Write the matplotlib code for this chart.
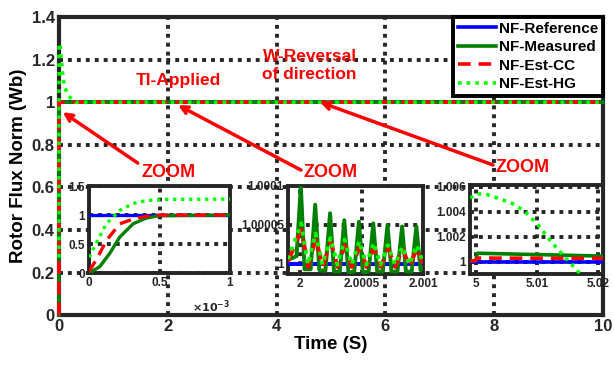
import matplotlib
matplotlib.use("Agg")
import matplotlib.pyplot as plt
from matplotlib.ticker import FuncFormatter

plt.rcParams["font.family"] = ["Liberation Sans", "DejaVu Sans"]
plt.rcParams["font.weight"] = "bold"
plt.rcParams["mathtext.default"] = "bf"

# ---- main axes data (time in s, flux norm in Wb)
ref_t = [0, 10]
ref_v = [1, 1]
meas_t = [0, 0.0005, 10]
meas_v = [0, 1, 1]
cc_t = [0, 0.0005, 10]
cc_v = [0, 1, 1]
hg_t = [0, 0.0005, 0.018, 0.037, 0.055, 0.079, 0.11, 0.17, 0.23, 0.3, 10]
hg_v = [0.27, 1.27, 1.276, 1.22, 1.165, 1.105, 1.067, 1.033, 1.014, 1.0, 1.0]

# ---- zoom 1: start-up (0 .. 1 ms)
z1_ref_t = [0, 0.001]
z1_ref_v = [1, 1]
z1_meas_t = [0, 0.076e-3, 0.147e-3, 0.218e-3, 0.313e-3, 0.408e-3, 0.5e-3, 1e-3]
z1_meas_v = [0, 0.11, 0.34, 0.62, 0.85, 0.95, 0.99, 1.0]
z1_cc_t = [0, 0.052e-3, 0.123e-3, 0.218e-3, 0.313e-3, 0.408e-3, 0.5e-3, 1e-3]
z1_cc_v = [0.03, 0.23, 0.56, 0.85, 0.93, 0.98, 1.0, 1.0]
z1_hg_t = [0, 0.052e-3, 0.123e-3, 0.218e-3, 0.313e-3, 0.408e-3, 0.55e-3, 1e-3]
z1_hg_v = [0.27, 0.52, 0.85, 1.08, 1.20, 1.25, 1.27, 1.275]

# ---- zoom 2: TI applied (2 .. 2.001 s)
z2_ref_t = [1.9999, 2.001]
z2_ref_v = [1, 1]
z2_meas_t = [1.99990, 1.99997, 2.000005, 2.000035, 2.000085, 2.000122, 2.000155,
             2.000205, 2.000243, 2.000275, 2.000322, 2.000359, 2.000392, 2.000440,
             2.000478, 2.000510, 2.000557, 2.000595, 2.000627, 2.000673, 2.000711,
             2.000743, 2.000792, 2.000830, 2.000861, 2.000908, 2.000946, 2.000980,
             2.001000]
z2_meas_v = [1.000005, 1.000010, 1.000100, 0.999993, 0.999993, 1.000076, 0.999992,
             0.999991, 1.000065, 0.999990, 0.999990, 1.000056, 0.999989, 0.999990,
             1.000054, 0.999989, 0.999990, 1.000052, 0.999990, 0.999990, 1.000050,
             0.999990, 0.999990, 1.000048, 0.999990, 0.999990, 1.000048, 0.999992,
             0.999995]
z2_cc_t = [1.99990, 2.000010, 2.000065, 2.000127, 2.000183, 2.000248, 2.000305,
           2.000364, 2.000420, 2.000483, 2.000540, 2.000600, 2.000656, 2.000716,
           2.000773, 2.000835, 2.000890, 2.000951, 2.001000]
z2_cc_v = [1.000003, 1.000044, 0.999996, 1.000033, 0.999996, 1.000029, 0.999996,
           1.000024, 0.999996, 1.000022, 0.999996, 1.000021, 0.999996, 1.000020,
           0.999996, 1.000020, 0.999996, 1.000020, 1.000000]
z2_hg_t = [1.99990, 2.000008, 2.000063, 2.000125, 2.000181, 2.000246, 2.000303,
           2.000362, 2.000419, 2.000481, 2.000538, 2.000598, 2.000654, 2.000714,
           2.000771, 2.000833, 2.000889, 2.000949, 2.001000]
z2_hg_v = [1.000006, 1.000052, 0.999999, 1.000039, 0.999999, 1.000033, 0.999999,
           1.000031, 0.999999, 1.000029, 0.999999, 1.000027, 0.999999, 1.000024,
           0.999999, 1.000022, 0.999999, 1.000024, 1.000002]

# ---- zoom 3: speed reversal (5 .. 5.02 s)
z3_ref_t = [4.999, 5.021]
z3_ref_v = [1, 1]
z3_meas_t = [4.999, 4.99995, 5.0002, 5.021]
z3_meas_v = [1.00008, 1.0001, 1.0007, 1.00047]
z3_cc_t = [4.999, 4.99995, 5.0002, 5.021]
z3_cc_v = [1.00008, 1.0001, 1.00031, 1.00029]
z3_hg_t = [4.999, 5.00016, 5.00173, 5.00382, 5.00592, 5.00801, 5.0101, 5.0122,
           5.0143, 5.01665, 5.019]
z3_hg_v = [1.00512, 1.00545, 1.0054, 1.00506, 1.00468, 1.00403, 1.00299, 1.00169,
           1.00052, 0.99927, 0.9980]

labels = ["NF-Reference", "NF-Measured", "NF-Est-CC", "NF-Est-HG"]
GRID = "#262626"


def draw(ax, series, lw=2.6, clip=True):
    (rt, rv), (mt, mv), (ct, cv), (ht, hv) = series
    kw = dict(zorder=3, clip_on=clip)
    h1, = ax.plot(rt, rv, color="#0000ff", lw=lw, **kw)
    h2, = ax.plot(mt, mv, color="#008000", lw=lw, **kw)
    h3, = ax.plot(ct, cv, color="#ff0000", lw=lw, ls=(0, (3.5, 2.2)), **kw)
    h4, = ax.plot(ht, hv, color="#00ff00", lw=lw, ls=(0, (1, 1.4)), **kw)
    return [h1, h2, h3, h4]


def style(ax, lw=2.6, size=12):
    for s in ax.spines.values():
        s.set_linewidth(lw)
        s.set_color("#262626")
    ax.grid(True, ls=(0, (1, 1.3)), lw=2.8, color=GRID)
    ax.tick_params(direction="in", length=3, width=1.5, labelsize=size,
                   colors="#262626", pad=3)
    ax.set_axisbelow(True)


fig = plt.figure(figsize=(6.14, 3.69), dpi=100)
ax = fig.add_axes([0.096, 0.146, 0.886, 0.808])
handles = draw(ax, [(ref_t, ref_v), (meas_t, meas_v), (cc_t, cc_v), (hg_t, hg_v)],
               clip=False)
ax.set_xlim(0, 10)
ax.set_ylim(0, 1.4)
ax.set_xticks([0, 2, 4, 6, 8, 10])
ax.set_yticks([0, 0.2, 0.4, 0.6, 0.8, 1, 1.2, 1.4])
ax.yaxis.set_major_formatter(FuncFormatter(lambda v, p: f"{v:g}"))
style(ax, lw=3)
ax.set_xlabel("Time (S)", fontsize=13.5, fontweight="bold", labelpad=1)
ax.set_ylabel("Rotor Flux Norm (Wb)", fontsize=13.5, fontweight="bold", labelpad=3)

leg = ax.legend(handles, labels, loc="upper right", borderaxespad=0,
                fontsize=11, handlelength=2.5, handletextpad=0.2,
                labelspacing=0.3, borderpad=0.3, fancybox=False,
                framealpha=1, edgecolor="black")
leg.get_frame().set_linewidth(2.8)
leg.set_zorder(6)

red = "#ff0000"
ax.text(2.19, 1.10, "TI-Applied", color=red, fontsize=12.5, fontweight="bold",
        ha="center", va="center")
ax.text(4.61, 1.172, "W-Reversal\nof direction", color=red, fontsize=12.5,
        fontweight="bold", ha="center", va="center", linespacing=1.3)
for x, y in [(2.02, 0.672), (5.0, 0.672), (8.53, 0.695)]:
    ax.text(x, y, "ZOOM", color=red, fontsize=13, fontweight="bold",
            ha="center", va="center")
arrows = [((0.07, 0.953), (1.45, 0.714)),
          ((2.19, 0.986), (4.45, 0.681)),
          ((4.8, 1.0), (7.98, 0.705))]
for tip, tail in arrows:
    ax.annotate("", xy=tip, xytext=tail,
                arrowprops=dict(arrowstyle="->,head_length=0.5,head_width=0.25",
                                color=red, lw=2.5, shrinkA=0, shrinkB=0))

# inset 1
a1 = fig.add_axes([0.145, 0.260, 0.2296, 0.2358])
draw(a1, [(z1_ref_t, z1_ref_v), (z1_meas_t, z1_meas_v), (z1_cc_t, z1_cc_v),
          (z1_hg_t, z1_hg_v)], lw=2.4)
a1.set_xlim(0, 0.001)
a1.set_ylim(0, 1.5)
a1.set_xticks([0, 0.0005, 0.001])
a1.set_yticks([0, 0.5, 1, 1.5])
a1.xaxis.set_major_formatter(FuncFormatter(lambda v, p: f"{v * 1e3:g}"))
a1.yaxis.set_major_formatter(FuncFormatter(lambda v, p: f"{v:g}"))
style(a1, lw=2.8, size=8.5)
a1.text(1.0, -0.29, r"$\times10^{-3}$", transform=a1.transAxes, ha="right",
        va="top", fontsize=8, color="#262626")

# inset 2
a2 = fig.add_axes([0.469, 0.2575, 0.2199, 0.2385])
draw(a2, [(z2_ref_t, z2_ref_v), (z2_meas_t, z2_meas_v), (z2_cc_t, z2_cc_v),
          (z2_hg_t, z2_hg_v)], lw=2.8)
a2.set_xlim(1.9999, 2.001)
a2.set_ylim(0.999987, 1.0001)
a2.set_xticks([2, 2.0005, 2.001])
a2.set_yticks([1, 1.00005, 1.0001])
a2.xaxis.set_major_formatter(FuncFormatter(lambda v, p: f"{v:.6g}"))
a2.yaxis.set_major_formatter(FuncFormatter(lambda v, p: f"{v:.6g}"))
style(a2, lw=2.8, size=8.5)

# inset 3
a3 = fig.add_axes([0.7655, 0.2575, 0.2166, 0.2412])
draw(a3, [(z3_ref_t, z3_ref_v), (z3_meas_t, z3_meas_v), (z3_cc_t, z3_cc_v),
          (z3_hg_t, z3_hg_v)], lw=2.6)
a3.set_xlim(4.999, 5.0208)
a3.set_ylim(0.99904, 1.00616)
a3.set_xticks([5, 5.01, 5.02])
a3.set_yticks([1, 1.002, 1.004, 1.006])
a3.xaxis.set_major_formatter(FuncFormatter(lambda v, p: f"{v:.6g}"))
a3.yaxis.set_major_formatter(FuncFormatter(lambda v, p: f"{v:.6g}"))
style(a3, lw=2.8, size=8.5)

fig.savefig("out.png", dpi=100)
